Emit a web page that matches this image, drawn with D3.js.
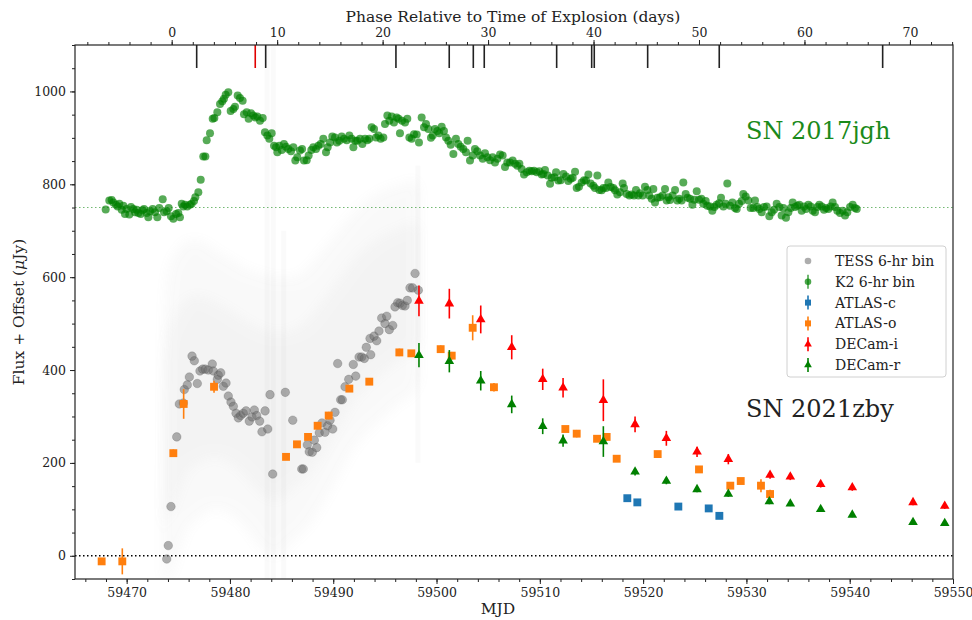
<!DOCTYPE html>
<html><head><meta charset="utf-8">
<script src="https://cdn.jsdelivr.net/npm/d3@7"></script>
<style>body{margin:0;background:#fff} text{font-family:'DejaVu Serif',serif}</style>
</head><body><svg id="c" width="972" height="620"></svg>
<script>
// ---------------- DATA ----------------
const mjdDomain = [59465, 59550];
const fluxDomain = [-50, 1100];
const explosionMJD = 59474.36;
const redshift = 0.021;
const mjdTicks = [59470, 59480, 59490, 59500, 59510, 59520, 59530, 59540, 59550];
const fluxTicks = [0, 200, 400, 600, 800, 1000];
const phaseTicks = [0, 10, 20, 30, 40, 50, 60, 70];
const k2Offset = 750;

// spectral epochs (MJD), red one separately
const specMJD = [59476.78, 59483.46, 59496.07, 59501.23, 59503.56, 59504.62, 59511.63, 59515.02, 59515.27, 59520.44, 59527.37, 59543.19];
const specRedMJD = [59482.45];

// TESS 6-hr bins
const tessMJD = [59473.88,59474.03,59474.29,59474.85,59475.10,59475.49,59475.58,59475.87,59476.07,59476.33,59476.55,59476.84,59477.10,59477.36,59477.61,59477.91,59478.29,59478.39,59478.78,59478.87,59479.11,59479.36,59479.62,59479.84,59480.10,59480.33,59480.59,59480.81,59481.04,59481.29,59481.56,59481.87,59482.14,59482.36,59482.59,59482.88,59483.10,59483.40,59483.66,59483.88,59484.14,59485.36,59486.08,59486.95,59487.10,59487.49,59487.68,59487.97,59488.17,59488.40,59488.65,59488.91,59489.20,59489.46,59489.69,59489.95,59490.17,59490.43,59490.72,59490.88,59491.14,59491.50,59491.94,59492.18,59492.50,59492.76,59493.01,59493.20,59493.63,59493.56,59493.95,59494.21,59494.43,59494.69,59495.01,59495.18,59495.43,59495.76,59495.98,59496.24,59496.47,59496.69,59496.95,59497.17,59497.43,59497.69,59497.92,59498.24];
const tessFlux = [-7,22,106,256,327,329,358,368,385,430,420,371,398,402,402,400,413,398,380,389,394,365,372,344,331,322,307,297,302,307,312,290,299,314,302,290,267,312,273,347,176,352,292,187,187,239,224,223,249,233,265,286,266,280,292,273,309,414,336,336,364,380,412,387,428,428,425,449,433,468,473,463,484,512,500,516,487,496,536,545,544,539,538,550,577,577,608,572];

// TESS raw (unbinned) scatter envelope
const tessRawMJD = [59473.45,59473.6,59473.9,59474.4,59475.0,59476.0,59477.0,59478.5,59480.0,59481.5,59482.8,59484.5,59486.0,59487.5,59489.0,59490.5,59492.0,59493.5,59495.0,59496.5,59497.8,59498.4];
const tessRawLo  = [-50,-50,-50,-40,0,60,80,100,90,60,20,0,30,60,110,170,230,270,300,330,350,380];
const tessRawHi  = [-50,500,600,640,660,680,680,660,640,620,610,600,600,620,660,700,740,770,790,800,810,790];
const streakMJD = [59483.6, 59484.2, 59485.2, 59498.2];
const streakLo  = [-50, -50, -50, 200];
const streakHi  = [1100, 1100, 700, 840];

// K2 6-hr bins (SN 2017jgh, flux incl. offset)
const k2MJD = [59467.97,59468.32,59468.55,59468.71,59468.97,59469.13,59469.29,59469.52,59469.68,59469.84,59470.00,59470.26,59470.42,59470.65,59470.81,59470.97,59471.13,59471.36,59471.55,59471.68,59471.94,59472.10,59472.26,59472.52,59472.74,59472.97,59473.16,59473.49,59473.62,59473.87,59474.07,59474.29,59474.52,59474.78,59475.00,59475.16,59475.33,59475.49,59475.65,59475.87,59476.13,59476.29,59476.52,59476.65,59476.94,59477.17,59477.42,59477.62,59477.75,59478.07,59478.33,59478.49,59478.78,59479.04,59479.26,59479.42,59479.59,59479.84,59480.07,59480.33,59480.49,59480.75,59480.97,59481.23,59481.36,59481.62,59481.81,59482.04,59482.26,59482.46,59482.65,59482.91,59483.17,59483.39,59483.62,59483.81,59484.04,59484.27,59484.46,59484.59,59484.78,59485.01,59485.23,59485.43,59485.65,59485.91,59486.14,59486.33,59486.52,59486.78,59486.98,59487.17,59487.43,59487.62,59487.88,59488.07,59488.33,59488.56,59488.78,59489.04,59489.30,59489.46,59489.69,59489.91,59490.17,59490.36,59490.59,59490.82,59491.04,59491.30,59491.56,59491.78,59491.95,59492.14,59492.33,59492.59,59492.82,59493.08,59493.30,59493.49,59493.72,59493.95,59494.14,59494.37,59494.59,59494.85,59495.01,59495.24,59495.43,59495.66,59495.88,59496.14,59496.33,59496.46,59496.66,59496.95,59497.17,59497.37,59497.59,59497.82,59498.08,59498.30,59498.56,59498.79,59498.98,59499.21,59499.46,59499.63,59499.85,59500.08,59500.27,59500.50,59500.72,59500.92,59501.14,59501.37,59501.63,59501.88,59502.11,59502.34,59502.59,59502.85,59503.01,59503.24,59503.50,59503.72,59503.95,59504.21,59504.47,59504.69,59504.92,59505.18,59505.43,59505.66,59505.89,59506.15,59506.40,59506.63,59506.85,59507.11,59507.37,59507.60,59507.83,59508.02,
59508.24,59508.47,59508.73,59508.99,59509.21,59509.44,59509.70,59509.95,59510.18,59510.34,59510.50,59510.76,59510.99,59511.15,59511.41,59511.57,59511.79,59512.02,59512.28,59512.54,59512.76,59512.99,59513.18,59513.41,59513.57,59513.79,59514.05,59514.28,59514.47,59514.70,59514.92,59515.18,59515.34,59515.57,59515.76,59515.99,59516.15,59516.41,59516.63,59516.86,59517.12,59517.28,59517.50,59517.76,59518.02,59518.15,59518.41,59518.67,59518.89,59519.12,59519.31,59519.54,59519.70,59519.96,59520.18,59520.41,59520.60,59520.83,59520.99,59521.15,59521.38,59521.64,59521.89,59522.12,59522.28,59522.44,59522.60,59522.86,59523.09,59523.31,59523.51,59523.73,59523.89,59524.12,59524.31,59524.54,59524.77,59524.96,59525.19,59525.41,59525.64,59525.83,59526.06,59526.22,59526.48,59526.70,59526.90,59527.12,59527.35,59527.54,59527.77,59527.99,59528.15,59528.41,59528.64,59528.90,59529.06,59529.28,59529.54,59529.70,59529.93,59530.19,59530.41,59530.67,59530.83,59531.06,59531.25,59531.48,59531.70,59531.96,59532.22,59532.45,59532.67,59532.93,59533.19,59533.41,59533.58,59533.83,59534.06,59534.29,59534.48,59534.71,59534.93,59535.12,59535.35,59535.58,59535.77,59536.00,59536.22,59536.42,59536.64,59536.87,59537.06,59537.29,59537.51,59537.71,59537.93,59538.16,59538.35,59538.58,59538.80,59539.06,59539.32,59539.55,59539.77,59540.03,59540.29,59540.51,59540.68];
const k2Flux = [746,765,766,761,756,752,758,745,754,736,747,735,751,747,740,745,738,736,744,747,738,729,742,747,740,729,749,768,740,742,749,731,726,736,738,729,758,752,756,752,756,758,764,772,783,810,860,860,895,910,941,943,955,973,979,984,993,998,958,962,967,991,986,980,951,955,941,953,948,944,946,937,943,912,905,898,910,883,880,869,883,874,887,881,876,871,880,851,858,873,876,851,852,862,874,880,876,883,887,898,869,880,890,903,901,890,894,903,898,895,905,898,880,894,894,898,887,898,895,898,923,919,901,905,898,901,930,948,937,946,933,944,941,910,937,933,941,901,898,908,907,890,944,923,930,919,900,905,919,915,910,924,915,901,894,885,865,898,887,881,876,869,894,851,862,876,871,862,855,867,858,852,858,847,855,864,862,837,847,847,851,844,840,844,
833,821,826,829,828,829,826,828,821,822,831,819,801,814,815,826,808,809,822,817,807,812,814,827,792,795,804,809,808,821,802,797,792,819,788,787,792,792,804,794,792,787,778,783,802,792,779,776,778,776,788,776,781,776,795,788,776,769,790,761,771,772,776,790,765,772,766,776,788,765,769,765,804,779,771,769,756,767,785,767,769,758,764,754,752,743,751,756,759,771,752,758,802,754,761,749,747,758,764,779,774,765,749,749,765,751,747,740,751,752,731,740,745,758,751,733,749,728,740,749,761,751,754,756,743,752,747,756,752,743,740,751,756,752,745,749,747,752,761,751,743,738,743,733,740,751,756,749,747];

// ATLAS-c
const atlasCMJD  = [59518.47, 59519.44, 59523.41, 59526.35, 59527.38];
const atlasCFlux = [124, 115, 106, 102, 86];
const atlasCErr  = [4, 4, 4, 4, 4];
// ATLAS-o
const atlasOMJD  = [59467.58,59469.58,59474.52,59475.52,59478.46,59485.43,59486.49,59487.56,59488.49,59489.56,59491.56,59493.49,59496.40,59497.56,59500.40,59501.47,59503.50,59505.56,59512.47,59513.57,59515.54,59516.47,59517.44,59521.41,59525.41,59528.44,59529.45,59531.41,59532.29];
const atlasOFlux = [-12,-12,221,327,364,213,240,256,280,302,360,375,438,436,445,431,491,363,273,263,252,256,209,219,186,151,161,151,133];
const atlasOErr  = [5,28,8,32,13,6,6,6,6,8,6,6,8,6,8,8,27,9,6,8,6,8,5,5,5,6,5,14,9];
// DECam-i
const decamIMJD  = [59498.30,59501.24,59504.28,59507.28,59510.28,59512.25,59516.15,59519.22,59522.25,59525.22,59528.25,59532.29,59534.25,59537.19,59540.25,59546.13,59549.20];
const decamIFlux = [549,543,509,449,380,362,335,283,253,224,208,174,170,154,147,115,107];
const decamIErr  = [33,32,30,26,23,21,45,17,16,11,11,8,7,7,7,6,6];
// DECam-r
const decamRMJD  = [59498.30,59501.24,59504.28,59507.28,59510.28,59512.25,59516.15,59519.22,59522.25,59525.22,59528.25,59532.22,59534.25,59537.19,59540.25,59546.13,59549.20];
const decamRFlux = [432,419,377,326,279,248,246,181,161,143,133,117,112,100,88,72,70];
const decamRErr  = [26,24,21,19,17,13,33,8,7,6,6,6,5,5,5,5,5];

const legendLabels = ["TESS 6-hr bin", "K2 6-hr bin", "ATLAS-c", "ATLAS-o", "DECam-i", "DECam-r"];

// ---------------- CHART ----------------
const svg = d3.select("#c");
const L = 75, R = 953, T = 45, B = 579;
const x = d3.scaleLinear().domain(mjdDomain).range([L, R]);
const y = d3.scaleLinear().domain(fluxDomain).range([B, T]);
const toPhase = m => (m - explosionMJD) / (1 + redshift);
const xp = d3.scaleLinear().domain(mjdDomain.map(toPhase)).range([L, R]);

const defs = svg.append("defs");
defs.append("clipPath").attr("id", "clip")
  .append("rect").attr("x", L).attr("y", T).attr("width", R - L).attr("height", B - T);
defs.append("filter").attr("id", "blur").append("feGaussianBlur").attr("stdDeviation", 6);
const g = svg.append("g").attr("clip-path", "url(#clip)");

const C = {tess: "#808080", k2: "#008000", ac: "#1f77b4", ao: "#ff7f0e", di: "#ff0000", dr: "#008000"};

// raw TESS cloud (faint envelope)
const area = d3.area().x((d) => x(d[0])).y0(d => y(d[1])).y1(d => y(d[2])).curve(d3.curveMonotoneX);
const rawData = tessRawMJD.map((m, i) => [m, tessRawLo[i], tessRawHi[i]]);
g.append("path").attr("d", area(rawData)).attr("fill", "#999").attr("opacity", 0.05).attr("filter", "url(#blur)");
const rawInner = tessRawMJD.map((m, i) => [m, tessRawLo[i] + (tessRawHi[i] - tessRawLo[i]) * 0.2, tessRawHi[i] - (tessRawHi[i] - tessRawLo[i]) * 0.2]);
g.append("path").attr("d", area(rawInner)).attr("fill", "#999").attr("opacity", 0.05).attr("filter", "url(#blur)");
streakMJD.forEach((m, i) => {
  g.append("rect").attr("x", x(m) - 2.5).attr("width", 5)
    .attr("y", y(streakHi[i])).attr("height", y(streakLo[i]) - y(streakHi[i]))
    .attr("fill", "#aaa").attr("opacity", 0.06);
});

// reference lines
g.append("line").attr("x1", L).attr("x2", R).attr("y1", y(0)).attr("y2", y(0))
  .attr("stroke", "#000").attr("stroke-width", 1.4).attr("stroke-dasharray", "1.5,2.5");
g.append("line").attr("x1", L).attr("x2", R).attr("y1", y(k2Offset)).attr("y2", y(k2Offset))
  .attr("stroke", "#008000").attr("stroke-opacity", 0.55).attr("stroke-width", 1.2).attr("stroke-dasharray", "1.5,2.5");

// TESS binned
g.selectAll(".tess").data(tessMJD.map((m, i) => [m, tessFlux[i]])).join("circle")
  .attr("cx", d => x(d[0])).attr("cy", d => y(d[1])).attr("r", 4.3)
  .attr("fill", "#6e6e6e").attr("fill-opacity", 0.55).attr("stroke", "#444").attr("stroke-opacity", 0.35).attr("stroke-width", 0.6);

// K2
g.selectAll(".k2").data(k2MJD.map((m, i) => [m, k2Flux[i]])).join("circle")
  .attr("cx", d => x(d[0])).attr("cy", d => y(d[1])).attr("r", 4)
  .attr("fill", C.k2).attr("fill-opacity", 0.66);

function errSeries(mjd, flux, err, color, shape) {
  const data = mjd.map((m, i) => [m, flux[i], err[i]]);
  g.append("g").selectAll("line").data(data).join("line")
    .attr("x1", d => x(d[0])).attr("x2", d => x(d[0]))
    .attr("y1", d => y(d[1] - d[2])).attr("y2", d => y(d[1] + d[2]))
    .attr("stroke", color).attr("stroke-width", 1.6);
  const sym = shape === "square" ? d3.symbol(d3.symbolSquare, 62) : d3.symbol(d3.symbolTriangle, 40);
  g.append("g").selectAll("path").data(data).join("path")
    .attr("transform", d => `translate(${x(d[0])},${y(d[1])})`)
    .attr("d", sym).attr("fill", color);
}
errSeries(atlasCMJD, atlasCFlux, atlasCErr, C.ac, "square");
errSeries(atlasOMJD, atlasOFlux, atlasOErr, C.ao, "square");
errSeries(decamIMJD, decamIFlux, decamIErr, C.di, "tri");
errSeries(decamRMJD, decamRFlux, decamRErr, C.dr, "tri");

// spectral epoch markers
const spec = svg.append("g");
spec.selectAll(".s").data(specMJD).join("line")
  .attr("x1", d => x(d)).attr("x2", d => x(d)).attr("y1", T).attr("y2", T + 23)
  .attr("stroke", "#222").attr("stroke-width", 1.6);
spec.selectAll(".r").data(specRedMJD).join("line")
  .attr("x1", d => x(d)).attr("x2", d => x(d)).attr("y1", T).attr("y2", T + 23)
  .attr("stroke", "#e00000").attr("stroke-width", 1.6);

// frame
svg.append("rect").attr("x", L).attr("y", T).attr("width", R - L).attr("height", B - T)
  .attr("fill", "none").attr("stroke", "#222").attr("stroke-width", 1.2);

function styleAxis(sel, fs) {
  sel.select(".domain").remove();
  sel.selectAll("line").attr("stroke", "#222").attr("stroke-width", 1);
  sel.selectAll("text").attr("font-family", "'DejaVu Serif',serif").attr("font-size", fs).attr("fill", "#222");
}
// bottom
const minorX = d3.range(59466, 59551, 2);
svg.append("g").attr("transform", `translate(0,${B})`).call(d3.axisBottom(x).tickValues(minorX).tickSize(3).tickFormat("")).call(s => styleAxis(s, 12));
svg.append("g").attr("transform", `translate(0,${B})`).call(d3.axisBottom(x).tickValues(mjdTicks).tickSize(5).tickPadding(4).tickFormat(d3.format("d"))).call(s => styleAxis(s, 12.5));
// left
const minorY = d3.range(-50, 1101, 50);
svg.append("g").attr("transform", `translate(${L},0)`).call(d3.axisLeft(y).tickValues(minorY).tickSize(3).tickFormat("")).call(s => styleAxis(s, 12));
svg.append("g").attr("transform", `translate(${L},0)`).call(d3.axisLeft(y).tickValues(fluxTicks).tickSize(5).tickPadding(4).tickFormat(d3.format("d"))).call(s => styleAxis(s, 12.5));
// top (phase)
const minorP = d3.range(-8, 75, 2);
svg.append("g").attr("transform", `translate(0,${T})`).call(d3.axisTop(xp).tickValues(minorP).tickSize(3).tickFormat("")).call(s => styleAxis(s, 12));
svg.append("g").attr("transform", `translate(0,${T})`).call(d3.axisTop(xp).tickValues(phaseTicks).tickSize(5).tickPadding(3).tickFormat(d3.format("d"))).call(s => styleAxis(s, 12.5));

// axis titles
svg.append("text").attr("x", 513).attr("y", 22).attr("text-anchor", "middle")
  .attr("font-size", 15.5).attr("fill", "#222").text("Phase Relative to Time of Explosion (days)");
svg.append("text").attr("x", 498).attr("y", 614).attr("text-anchor", "middle")
  .attr("font-size", 15.5).attr("fill", "#222").text("MJD");
const yl = svg.append("text").attr("transform", `translate(24,${(T + B) / 2}) rotate(-90)`)
  .attr("text-anchor", "middle").attr("font-size", 15.5).attr("fill", "#222");
yl.append("tspan").text("Flux + Offset (");
yl.append("tspan").attr("font-style", "italic").text("μ");
yl.append("tspan").text("Jy)");

// annotations
svg.append("text").attr("x", 746).attr("y", 139).attr("font-size", 24).attr("fill", "#1a8a1a").text("SN 2017jgh");
svg.append("text").attr("x", 746).attr("y", 417).attr("font-size", 24).attr("fill", "#222").text("SN 2021zby");

// legend
const lg = svg.append("g");
lg.append("rect").attr("x", 787).attr("y", 246).attr("width", 159).attr("height", 131).attr("rx", 3)
  .attr("fill", "#fff").attr("fill-opacity", 0.85).attr("stroke", "#d0d0d0").attr("stroke-width", 1);
const legColors = ["#808080", C.k2, C.ac, C.ao, C.di, C.dr];
legendLabels.forEach((lab, i) => {
  const cy = 261 + i * 20.8, cx = 808;
  if (i === 0) {
    lg.append("circle").attr("cx", cx).attr("cy", cy).attr("r", 3.3).attr("fill", "#999").attr("fill-opacity", 0.8);
  } else {
    lg.append("line").attr("x1", cx).attr("x2", cx).attr("y1", cy - 7).attr("y2", cy + 7).attr("stroke", legColors[i]).attr("stroke-width", 1.6).attr("stroke-opacity", i === 1 ? 0.7 : 1);
    if (i === 1) lg.append("circle").attr("cx", cx).attr("cy", cy).attr("r", 3.3).attr("fill", C.k2).attr("fill-opacity", 0.7);
    else if (i <= 3) lg.append("path").attr("transform", `translate(${cx},${cy})`).attr("d", d3.symbol(d3.symbolSquare, 36)).attr("fill", legColors[i]);
    else lg.append("path").attr("transform", `translate(${cx},${cy})`).attr("d", d3.symbol(d3.symbolTriangle, 26)).attr("fill", legColors[i]);
  }
  lg.append("text").attr("x", 835).attr("y", cy + 5).attr("font-size", 14).attr("fill", "#222").text(lab);
});
</script></body></html>
